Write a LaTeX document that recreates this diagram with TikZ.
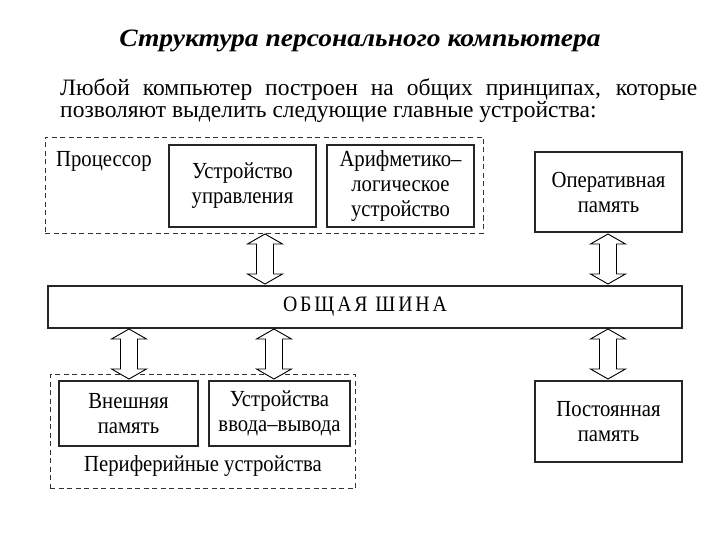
\documentclass[tikz,border=0pt]{standalone}
\usepackage{fontspec}
\setmainfont{Liberation Serif}
\newfontfamily\condfont[FakeStretch=0.9]{Liberation Serif}
\newfontfamily\busfont[FakeStretch=0.9,LetterSpace=13]{Liberation Serif}
\newfontfamily\titlefont[FakeStretch=1.1]{Liberation Serif}
\begin{document}
\begin{tikzpicture}[x=1pt,y=-1pt,
  box/.style={draw=black!85, line width=1.1pt, inner sep=0pt, align=center,
    font=\condfont\fontsize{23}{25}\selectfont},
  dbox/.style={draw=black!80, line width=0.9pt, dash pattern=on 5pt off 3.5pt, inner sep=0pt},
  lbl/.style={inner sep=0pt, font=\condfont\fontsize{23}{25}\selectfont},
  dbl/.pic={\draw[line width=0.9pt, fill=white, line join=miter]
    (0,0) -- (17.5,10) -- (8.5,10) -- (8.5,40) -- (17.5,40) -- (0,50)
    -- (-17.5,40) -- (-8.5,40) -- (-8.5,10) -- (-17.5,10) -- cycle;}
]
\useasboundingbox (0,0) rectangle (720,540);
\fill[white] (0,0) rectangle (720,540);

\node[inner sep=0pt, font=\titlefont\fontsize{25}{28}\selectfont\bfseries\itshape] (title) at (360,41) {Структура персонального компьютера};

\node[anchor=north west, inner sep=0pt, text width=637pt, align=justify,
  font=\fontsize{23.5}{22}\selectfont] (para) at (60,78)
  {Любой компьютер построен на общих принципах, которые\linebreak позволяют выделить следующие главные устройства:};

% processor group
\node[dbox, minimum width=438pt, minimum height=96pt] (proc) at (264,185) {};
\node[lbl, anchor=base west] (proclbl) at (56,167) {Процессор};
\node[box, minimum width=147pt, minimum height=82pt] (cu) at (242.5,186) {Устройство\\управления};
\node[box, minimum width=147pt, minimum height=82pt] (alu) at (400.5,186) {Арифметико–\\логическое\\устройство};

\node[box, minimum width=147pt, minimum height=80pt] (ram) at (608.5,192) {Оперативная\\память};

% bus
\node[box, minimum width=634pt, minimum height=42pt, font=\busfont\fontsize{22}{24}\selectfont] (bus) at (365,307) {ОБЩАЯ ШИНА};

% peripherals
\node[dbox, minimum width=305pt, minimum height=114pt] (periph) at (202.5,431.5) {};
\node[box, minimum width=139pt, minimum height=65pt] (ext) at (128.5,413.5) {Внешняя\\память};
\node[box, minimum width=141pt, minimum height=65pt] (io) at (279.5,413.5) {Устройства\\ввода–вывода};
\node[lbl] (periphlbl) at (203,466) {Периферийные устройства};

\node[box, minimum width=147pt, minimum height=81pt] (rom) at (608.5,421.5) {Постоянная\\память};

% double arrows
\coordinate (a1) at (265,234);
\coordinate (a2) at (608,234);
\coordinate (a3) at (129,329);
\coordinate (a4) at (274,329);
\coordinate (a5) at (608,329);
\pic at (a1) {dbl};
\pic at (a2) {dbl};
\pic at (a3) {dbl};
\pic at (a4) {dbl};
\pic at (a5) {dbl};
\end{tikzpicture}
\end{document}
